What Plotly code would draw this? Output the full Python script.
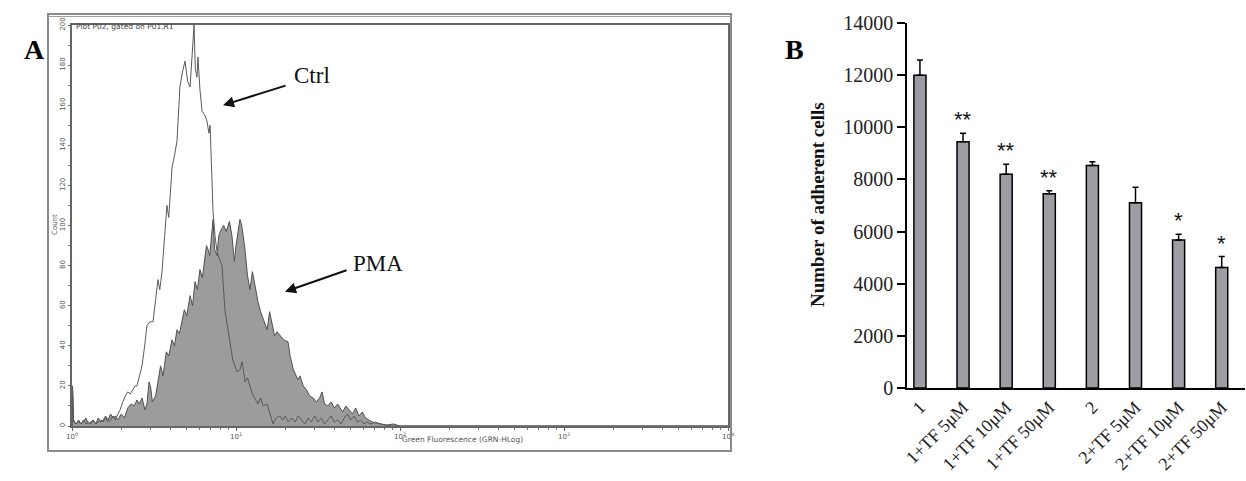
import plotly.graph_objects as go

W, H = 1246, 481

# ---- Panel A: flow cytometry histograms (GRN-HLog channel, decades) ----
ctrl_log = [0.000, 0.003, 0.010, 0.025, 0.040, 0.055, 0.070, 0.085, 0.100, 0.115,
            0.130, 0.145, 0.160, 0.175, 0.190, 0.205, 0.220, 0.235, 0.250, 0.265,
            0.280, 0.293, 0.310, 0.325, 0.340, 0.355, 0.370, 0.385, 0.396, 0.410,
            0.427, 0.440, 0.457, 0.475, 0.494, 0.510, 0.524, 0.535, 0.549, 0.565,
            0.579, 0.590, 0.610, 0.625, 0.640, 0.658, 0.672, 0.689, 0.705, 0.720,
            0.732, 0.744, 0.752, 0.762, 0.768, 0.780, 0.793, 0.810, 0.823, 0.835,
            0.842, 0.852, 0.860, 0.872, 0.884, 0.900, 0.915, 0.932, 0.950, 0.963,
            0.980, 1.006, 1.024, 1.037, 1.055, 1.070, 1.085, 1.100, 1.120, 1.134,
            1.150, 1.165, 1.189, 1.210, 1.226, 1.245, 1.268, 1.285, 1.300, 1.320,
            1.340, 1.360, 1.380, 1.400, 1.420, 1.440, 1.460, 1.480, 1.500, 1.520,
            1.540, 1.560, 1.580, 1.600, 1.620, 1.640, 1.660, 1.680, 1.700, 1.720,
            1.740, 1.760, 1.780, 1.800, 1.820, 1.850, 1.880, 1.910, 1.950, 4.000]
ctrl_count = [0, 20, 3, 1, 2, 1, 3, 1, 2, 1,
              3, 1, 2, 3, 2, 4, 2, 3, 5, 3,
              6, 8, 12, 15, 17, 16, 18, 20, 20, 25,
              30, 38, 50, 52, 52, 63, 73, 68, 77, 95,
              110, 104, 129, 135, 142, 169, 176, 182, 172, 169,
              185, 200, 178, 174, 184, 168, 157, 155, 152, 146,
              150, 128, 107, 95, 87, 83, 80, 58, 48, 40,
              33, 27, 28, 32, 22, 24, 20, 16, 13, 11,
              14, 10, 11, 5, 1, 4, 5, 3, 5, 2,
              4, 2, 5, 3, 1, 4, 2, 5, 2, 4,
              1, 3, 5, 2, 3, 1, 4, 6, 3, 5,
              2, 3, 1, 2, 1, 2, 1, 0.5, 0, 0]

pma_log = [0.000, 0.003, 0.010, 0.025, 0.040, 0.055, 0.070, 0.085, 0.100, 0.115,
           0.130, 0.145, 0.160, 0.175, 0.190, 0.205, 0.220, 0.235, 0.250, 0.265,
           0.280, 0.300, 0.320, 0.340, 0.360, 0.380, 0.396, 0.410, 0.427, 0.445,
           0.457, 0.470, 0.480, 0.490, 0.510, 0.524, 0.540, 0.555, 0.575, 0.590,
           0.610, 0.625, 0.640, 0.655, 0.670, 0.685, 0.700, 0.720, 0.735, 0.750,
           0.765, 0.780, 0.795, 0.820, 0.830, 0.840, 0.860, 0.870, 0.884, 0.895,
           0.910, 0.925, 0.940, 0.960, 0.975, 0.990, 1.000, 1.024, 1.035, 1.055,
           1.070, 1.085, 1.100, 1.120, 1.134, 1.150, 1.170, 1.190, 1.205, 1.220,
           1.235, 1.250, 1.270, 1.290, 1.317, 1.330, 1.350, 1.378, 1.390, 1.410,
           1.430, 1.450, 1.470, 1.490, 1.510, 1.525, 1.540, 1.560, 1.580, 1.600,
           1.620, 1.634, 1.650, 1.670, 1.690, 1.710, 1.730, 1.750, 1.770, 1.790,
           1.810, 1.830, 1.850, 1.880, 1.920, 1.960, 2.000, 4.000]
pma_count = [0, 20, 2, 1, 3, 1, 2, 4, 1, 2,
             3, 1, 4, 2, 3, 5, 3, 6, 4, 5,
             3, 6, 4, 9, 11, 10, 13, 11, 14, 8,
             11, 22, 19, 12, 15, 22, 30, 25, 37, 35,
             43, 40, 48, 46, 52, 58, 55, 65, 60, 72,
             68, 78, 74, 90, 88, 85, 103, 88, 85, 95,
             98, 100, 97, 102, 95, 82, 90, 103, 100, 88,
             75, 68, 77, 67, 62, 57, 52, 48, 57, 50,
             45, 47, 45, 43, 42, 35, 28, 23, 25, 20,
             18, 15, 14, 12, 14, 17, 11, 10, 12, 9,
             11, 9, 7, 10, 8, 6, 9, 5, 7, 4,
             3, 2, 1.5, 1, 0.5, 1, 0, 0]

hist_xticks = [1, 10, 100, 1000, 10000]
hist_xticktext = ["10<sup>0</sup>", "10<sup>1</sup>", "10<sup>2</sup>",
                  "10<sup>3</sup>", "10<sup>4</sup>"]
hist_minor_xticks = [m * d for d in (1, 10, 100, 1000) for m in range(2, 10)]

# ---- Panel B: adherent cell counts ----
groups = ["1", "1+TF 5μM", "1+TF 10μM", "1+TF 50μM",
          "2", "2+TF 5μM", "2+TF 10μM", "2+TF 50μM"]
cell_counts = [12000, 9450, 8200, 7450, 8530, 7110, 5680, 4620]
cell_errors = [580, 320, 380, 120, 150, 590, 215, 420]
significance = ["", "**", "**", "**", "", "", "*", "*"]


def fx(p):
    return p / W


def fy(p):
    return 1 - p / H


fig = go.Figure()

fig.add_trace(go.Scatter(
    x=[10 ** v for v in pma_log], y=pma_count, mode="lines",
    line=dict(color="#505050", width=1), fill="tozeroy",
    fillcolor="#9c9c9c", xaxis="x", yaxis="y", showlegend=False))
fig.add_trace(go.Scatter(
    x=[10 ** v for v in ctrl_log], y=ctrl_count, mode="lines",
    line=dict(color="#5a5a5a", width=1), xaxis="x", yaxis="y",
    showlegend=False))

fig.add_trace(go.Bar(
    x=groups, y=cell_counts, width=0.28,
    marker=dict(color="#9d9da3", line=dict(color="black", width=1.5)),
    error_y=dict(type="data", symmetric=False, array=cell_errors,
                 arrayminus=[0] * len(cell_errors),
                 color="black", thickness=1.5, width=3),
    xaxis="x2", yaxis="y2", showlegend=False))

small = dict(family="DejaVu Sans", size=7, color="#555")
serif = "Liberation Serif, Times New Roman, serif"

fig.update_layout(
    width=W, height=H, margin=dict(l=0, r=0, t=0, b=0),
    paper_bgcolor="white", plot_bgcolor="white",
    xaxis=dict(domain=[fx(72), fx(728)], anchor="y", type="log",
               range=[0, 4], tickvals=hist_xticks, ticktext=hist_xticktext,
               tickfont=small, ticks="outside", ticklen=3, tickcolor="#666",
               minor=dict(ticks="outside", ticklen=2, tickcolor="#777",
                          tickmode="array", tickvals=hist_minor_xticks),
               showline=True, linecolor="#666", linewidth=1.5, mirror=True,
               showgrid=False, zeroline=False, automargin=False),
    yaxis=dict(domain=[fy(426), fy(25)], anchor="x", range=[0, 200],
               dtick=20, tickangle=-90, tickfont=small, ticks="outside",
               ticklen=2, tickcolor="#666",
               minor=dict(ticks="outside", ticklen=2, dtick=10,
                          tickcolor="#777"),
               showline=True, linecolor="#666", linewidth=1.5, mirror=True,
               showgrid=False, zeroline=False, automargin=False),
    xaxis2=dict(domain=[fx(907), fx(1245)], anchor="y2",
                range=[-0.3, 7.54], tickangle=-45,
                tickfont=dict(family=serif, size=18, color="#222"),
                showline=True, linecolor="black", linewidth=1.5,
                ticks="", showgrid=False, automargin=False),
    yaxis2=dict(domain=[fy(388), fy(23)], anchor="x2", range=[0, 14000],
                dtick=2000, tickformat="d",
                tickfont=dict(family=serif, size=20, color="#222"),
                ticks="outside", ticklen=8, tickwidth=1.5, tickcolor="black",
                showline=True, linecolor="black", linewidth=1.5,
                showgrid=False, zeroline=False, automargin=False),
)

annotations = [
    dict(text="<b>A</b>", x=fx(22), y=fy(32), xref="paper", yref="paper",
         showarrow=False, font=dict(family=serif, size=28, color="black")),
    dict(text="<b>B</b>", x=fx(794), y=fy(32), xref="paper", yref="paper",
         showarrow=False, font=dict(family=serif, size=28, color="black")),
    dict(text="Plot P02, gated on P01.R1", x=fx(74), y=fy(20),
         xref="paper", yref="paper", xanchor="left", showarrow=False,
         font=dict(family="DejaVu Sans", size=7.5, color="#444")),
    dict(text="Count", x=fx(49), y=fy(225), xref="paper", yref="paper",
         xanchor="left", textangle=-90, showarrow=False,
         font=dict(family="DejaVu Sans", size=7, color="#555")),
    dict(text="Green Fluorescence (GRN-HLog)", x=fx(400), y=fy(446),
         xref="paper", yref="paper", showarrow=False,
         font=dict(family="DejaVu Sans", size=7.5, color="#555")),
    # curve labels with arrows
    dict(text="Ctrl", x=1.463, y=175, xref="x", yref="y", showarrow=False,
         font=dict(family=serif, size=23, color="#111")),
    dict(text="", x=0.921, y=160, xref="x", yref="y", ax=64, ay=-20,
         showarrow=True, arrowhead=2, arrowsize=1.1, arrowwidth=2,
         arrowcolor="#111"),
    dict(text="PMA", x=1.866, y=81, xref="x", yref="y", showarrow=False,
         font=dict(family=serif, size=23, color="#111")),
    dict(text="", x=1.299, y=67, xref="x", yref="y", ax=63, ay=-22,
         showarrow=True, arrowhead=2, arrowsize=1.1, arrowwidth=2,
         arrowcolor="#111"),
    dict(text="<b>Number of adherent cells</b>", x=fx(818), y=fy(205),
         xref="paper", yref="paper", textangle=-90, showarrow=False,
         font=dict(family=serif, size=19, color="#111")),
]

for g, v, e, s in zip(groups, cell_counts, cell_errors, significance):
    if s:
        annotations.append(dict(
            text=s, x=g, y=v + e, xref="x2", yref="y2", yanchor="bottom",
            yshift=-1, showarrow=False,
            font=dict(family="Liberation Sans", size=22, color="#111")))

fig.update_layout(annotations=annotations)

# outer frame of the cytometry panel
fig.add_shape(type="rect", xref="paper", yref="paper",
              x0=fx(48), x1=fx(731), y0=fy(451), y1=fy(14),
              line=dict(color="#8a8a8a", width=2))
fig.add_shape(type="line", xref="paper", yref="paper",
              x0=fx(48), x1=fx(731), y0=fy(16.5), y1=fy(16.5),
              line=dict(color="#a0a0a0", width=1))

fig.write_html("out.html")
